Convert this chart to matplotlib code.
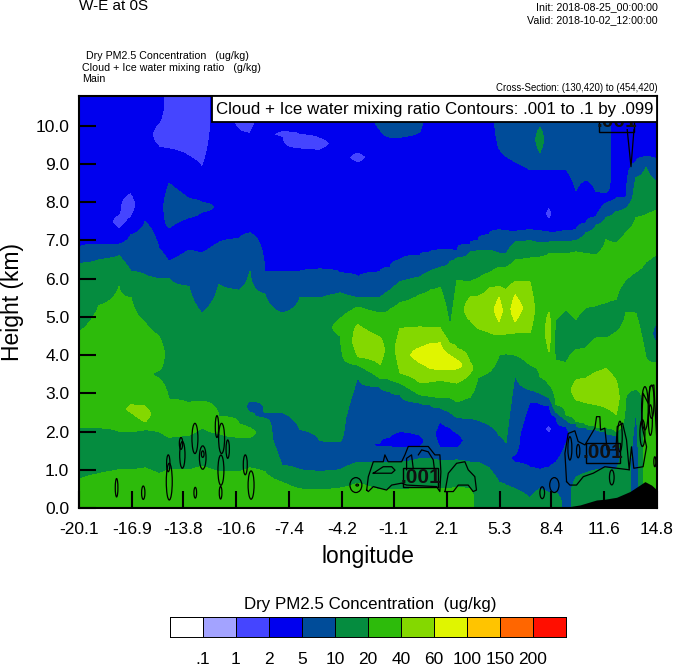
import numpy as np
import matplotlib
matplotlib.use("Agg")
import matplotlib.pyplot as plt
from matplotlib.colors import ListedColormap
from matplotlib.patches import Ellipse, Rectangle

plt.rcParams['font.family'] = ['Liberation Sans', 'DejaVu Sans']

W, H = 674, 667

# ---- colour bar classes ----
class_colors = ['#FFFFFF', '#A3A3FF', '#4545FF', '#0000EE', '#004C99', '#058C3F',
                '#2DBB0B', '#84D800', '#E0F500', '#FFC400', '#FF6600', '#FF0E00']
class_labels = ['.1', '1', '2', '5', '10', '20', '40', '60', '100', '150', '200']

# ---- x / y axis ----
lon_ticks = [-20.1, -16.9, -13.8, -10.6, -7.4, -4.2, -1.1, 2.1, 5.3, 8.4, 11.6, 14.8]
km_ticks = [0.0, 1.0, 2.0, 3.0, 4.0, 5.0, 6.0, 7.0, 8.0, 9.0, 10.0]

# ---- Dry PM2.5: class number and the top (km) of each layer, bottom to top, per longitude ----
col_lon = [-20.1, -18.89, -17.68, -16.96, -16.11, -15.27, -14.67, -13.46, -12.67, -11.65, -10.44,
           -9.78, -8.87, -7.84, -6.76, -5.55, -4.34, -3.25, -1.93, -1.32, -0.72, 0.49, 1.09, 1.70, 2.30, 2.72,
           3.51, 3.99, 4.66, 5.26, 5.68, 6.23, 7.13, 7.73, 8.28, 8.70, 9.31, 9.91, 10.51, 11.12,
           11.72, 12.32, 12.93, 13.53, 14.13, 14.8]
c00 = [6,.75,5,2.1,6,4.6,5,6.4,4,6.8,3]
c01 = [6,.9,5,2.1,6,5.3,5,6.5,4,6.9,3]
c02 = [6,1.0,5,2.0,6,5.8,5,6.6,4,6.9,3,7.3,2,7.7,3]
c03 = [6,1.0,5,2.0,6,2.5,7,2.7,6,5.5,5,6.2,4,7.15,3,7.6,2,8.25,3]
c04 = [6,1.05,5,2.05,6,2.25,7,2.65,6,4.85,5,6.1,4,7.5,3]
c05 = [6,.9,5,2.0,6,3.4,5,3.6,6,4.5,5,6.0,4,6.8,3,9.45,2,10.08,3]
c06 = [6,1.0,5,1.85,6,2.85,5,6.0,4,6.45,3,7.33,4,8.5,3,9.4,2]
c07 = [6,1.0,5,1.9,6,2.75,5,5.8,4,6.75,3,7.6,4,8.1,3,9.2,2]
c08 = [6,1.1,5,2.1,6,2.8,5,5.1,4,6.67,3,7.75,4,8.0,3,8.9,2]
c09 = [6,.95,5,1.95,6,2.4,5,5.85,4,6.95,3]
c10 = [6,.95,5,1.85,6,2.2,5,5.7,4,7.05,3,9.9,2]
c11 = [6,1.05,5,1.85,6,2.1,5,2.5,4,2.8,5,6.2,4,7.2,3,9.8,2]
c12 = [6,.95,5,2.35,4,2.5,5,5.6,4,6.2,3]
c13 = [6,.68,5,1.12,4,2.5,5,5.1,4,6.18,3,9.7,2,9.87,3]
c14 = [6,.5,5,1.0,4,2.05,5,5.5,4,6.2,3,9.4,2,9.8,3]
c15 = [6,.47,5,.95,4,1.75,5,5.5,4,6.25,3,9.37,2,9.7,3]
c16 = [6,.52,5,1.0,4,1.73,5,4.5,6,4.95,5,5.63,4,6.15,3]
c17 = [6,.65,5,1.2,4,3.43,5,3.74,6,3.95,7,4.8,6,5.26,5,5.5,4,6.05,3,9.03,2,9.32,3]
c18 = [6,.47,5,1.2,4,1.6,3,1.7,4,3.17,5,3.4,6,3.74,7,4.48,6,5.1,5,5.5,4,6.18,3,9.9,4]
c18b = [6,.47,5,1.2,4,1.6,3,1.85,4,3.05,5,3.35,6,5.2,5,5.7,4,6.3,3,9.7,4]
c19 = [6,.47,5,1.2,4,1.57,3,2.0,4,2.96,5,3.27,6,3.53,7,4.7,6,5.37,5,5.92,4,6.49,3,9.7,4]
c20 = [6,.52,5,1.3,4,1.6,3,1.9,4,2.75,5,2.96,6,3.27,7,3.8,8,4.2,7,4.74,6,5.58,5,6.05,4,6.62,3,9.85,4]
c20b = [6,.5,5,1.3,4,2.7,5,2.92,6,3.3,7,3.65,8,4.3,7,4.72,6,5.7,5,6.2,4,6.7,3]
c21 = [6,.5,5,1.25,4,1.57,3,2.25,4,2.62,5,2.88,6,3.35,7,3.61,8,4.32,7,4.71,6,5.78,5,6.3,4,6.75,3]
c22 = [6,.5,5,1.25,4,1.57,3,2.1,4,2.5,5,2.88,6,3.3,7,3.62,8,4.0,7,4.3,6,4.72,5,6.45,4,6.75,3]
c23 = [6,.55,5,1.26,4,1.57,3,1.96,4,2.36,5,2.78,6,3.27,7,3.64,8,3.87,7,4.18,6,5.97,5,6.54,4,6.7,3]
c24 = [6,.5,5,1.2,4,2.35,5,2.9,6,3.53,7,3.8,6,4.92,7,5.52,6,5.92,5,6.7,4,6.9,3]
c25 = [5,1.2,4,2.3,5,3.4,6,4.7,7,5.55,6,6.0,5,6.75,4,7.0,3]
c26 = [5,1.05,4,2.17,5,3.56,6,4.6,7,5.76,6,6.15,5,6.75,4,7.15,3]
c27 = [5,.68,4,1.9,5,4.0,6,4.53,7,4.87,8,5.52,7,5.79,6,6.3,5,6.67,4,7.28,3,9.4,4]
c28 = [5,.6,4,1.7,5,4.05,6,4.55,7,5.7,6,6.3,5,6.65,4,7.25,3,9.2,4]
c29 = [5,.5,4,1.2,3,1.4,4,3.48,5,4.0,6,4.58,7,4.87,8,5.58,7,5.92,6,6.49,5,6.96,4,7.22,3,9.06,4]
c30 = [5,.26,4,1.07,3,2.78,4,3.09,5,3.74,6,4.58,7,5.92,6,6.54,5,7.0,4,7.28,3,8.85,4]
c31 = [5,.5,4,1.0,3,2.75,4,3.0,5,3.43,6,6.57,5,6.94,4,7.25,3,8.85,4,9.3,5,9.95,4]
c32 = [5,.4,4,1.07,3,1.96,2,2.17,3,2.68,4,2.88,5,3.22,6,4.08,7,5.13,6,6.67,5,6.96,4,7.22,3,7.54,2,7.88,3,8.85,4]
c33 = [5,.4,4,1.2,3,2.38,4,2.5,5,2.7,6,3.87,5,4.92,6,6.67,5,6.96,4,7.22,3,8.85,4]
c34 = [4,1.7,3,2.12,4,2.3,5,2.43,6,3.8,5,5.18,6,6.67,5,6.96,4,7.25,3,8.85,4]
c35 = [5,.8,4,2.2,5,2.25,6,2.83,7,3.35,6,4.14,5,4.92,6,6.7,5,7.0,4,7.28,3,8.3,4]
c36 = [5,.92,4,2.1,5,2.17,6,2.75,7,3.4,6,4.19,5,5.24,6,6.67,5,7.2,4,7.46,3,8.59,4]
c37 = [5,1.0,4,2.05,5,2.12,6,2.7,7,3.56,6,4.45,5,5.29,6,6.62,5,7.4,4,7.62,3,8.27,4]
c38 = [5,1.05,4,2.0,5,2.1,6,2.62,7,3.65,6,4.45,5,5.37,6,7.02,5,7.6,4,7.98,3,8.25,4]
c39 = [5,1.0,4,1.9,5,2.0,6,2.43,7,3.35,6,4.6,5,5.45,6,6.94,5,7.75,4,8.1,3]
c40 = [5,2.9,6,5.13,5,5.97,6,7.22,5,7.85,4,8.14,3]
c41 = [4,2.6,5,3.1,6,5.1,5,6.18,6,7.6,5,8.64,4,9.06,3]
c42 = [6,3.95,5,6.44,6,7.67,5,8.93,4,9.19,3]
c43 = [6,3.8,5,4.27,4,4.87,5,6.67,6,7.8,5,8.53,4,9.11,3]
columns = [c00,c01,c02,c03,c04,c05,c06,c07,c08,c09,c10,c11,c12,c13,c14,c15,c16,c17,c18,c18b,c19,c20,c20b,c21,
           c22,c23,c24,c25,c26,c27,c28,c29,c30,c31,c32,c33,c34,c35,c36,c37,c38,c39,c40,c41,c42,c43]

# ---- terrain ----
terrain_lon = [9.44, 10.15, 11.15, 11.65, 12.36, 13.16, 13.76, 14.07, 14.47, 14.8]
terrain_km = [.03, .08, .21, .23, .28, .43, .60, .69, .60, .47]

# ---- cloud contour cells: lon, km, width, height ----
cell_lon = [-17.83,-16.22,-14.71,-14.65,-13.08,-13.94,-13.86,-13.1,-12.63,-12.63,-11.77,-11.49,-11.12,
            -11.53,-11.55,-10.06,-9.71,-3.38,-3.3,7.87,8.6,12.07,10.04,9.54,14.67,13.92,12.56,14.07,14.47,14.4]
cell_km = [.53,.40,1.17,.69,.40,1.69,1.39,1.82,1.32,1.41,2.13,1.82,1.54,.99,.40,1.13,.60,.60,.60,.40,.60,.80,
           1.49,1.56,1.21,1.96,1.87,2.61,2.78,2.3]
cell_w = [.16,.2,.2,.36,.16,.2,.32,.36,.4,.16,.2,.36,.2,.36,.16,.24,.36,.72,.16,.28,.56,.28,.2,.24,.12,.3,.28,.4,.3,.24]
cell_h = [.48,.35,.44,.96,.28,.31,.70,.79,.61,.17,.57,.79,.48,.79,.33,.52,.74,.39,.05,.31,.39,.39,.35,.61,.26,.7,.8,1.13,.87,.8]

# ---- irregular cloud contour outlines ----
line_a_lon = [-2.73,-2.63,-2.33,-1.73,-1.63,-1.43,-.62,-.42,-.22,.99,1.39,1.69,1.75,1.69,1.49,-.32,-.62,-1.22,-1.53,-2.33,-2.63,-2.73]
line_a_km = [.47,.82,1.21,1.21,1.39,1.21,1.21,1.39,1.61,1.61,1.39,1.39,.95,.43,.56,.60,.65,.60,.47,.56,.43,.47]
line_b_lon = [-2.33,-1.73,-1.22,-1.02,-1.22,-1.73,-2.33]
line_b_km = [.91,1.08,1.08,.99,.91,.91,.91]
line_c_lon = [-.32,-.32,-.02,.08]
line_c_km = [1.0,1.30,1.39,1.04]
line_d_lon = [.39,.59,.99,1.29,1.39]
line_d_km = [1.39,1.52,1.47,1.26,.91]
line_e_lon = [2.0,2.2,2.7,3.2,3.4,3.8,3.9,3.7,3.4,2.8,2.5,2.0]
line_e_km = [.43,.91,1.17,1.21,1.0,.82,.47,.43,.60,.60,.43,.43]
line_f_lon = [9.34,9.24,9.44,9.84,10.04,10.45,11.05,11.15,11.35,11.39,11.65,11.79,12.32,12.4,12.72,12.96,13.12,13.26,
              13.4,13.96,14.17,13.86,13.96,14.27,14.37,14.61,14.69,14.79]
line_f_km = [.69,1.43,1.95,2.02,1.74,1.65,2.09,2.39,2.39,2.04,2.09,1.52,1.52,2.13,2.22,1.78,1.0,1.6,1.04,1.08,1.6,
             2.22,3.0,2.74,3.18,3.22,2.57,1.78]
line_g_lon = [13.12,11.65,10.95,10.35,9.94,9.54,9.34]
line_g_km = [1.0,1.08,.91,.82,.6,.6,.69]
line_h_lon = [13.0,13.23,13.41]
line_h_km = [9.9,8.93,9.9]
lines = [(line_a_lon,line_a_km),(line_b_lon,line_b_km),(line_c_lon,line_c_km),(line_d_lon,line_d_km),
         (line_e_lon,line_e_km),(line_f_lon,line_f_km),(line_g_lon,line_g_km),(line_h_lon,line_h_km)]

# contour-label boxes: lon centre, km centre
label_lon = [0.52, 11.54, 12.36]
label_km = [.80, 1.44, 10.1]
label_w, label_h = 2.11, .5


def column_profile(col, z):
    bands = col[0::2]
    tops = col[1::2]
    hs, vs = [0.0], [float(bands[0])]
    edges = [0.0] + list(tops) + [11.0]
    for i, b in enumerate(bands):
        hs.append((edges[i] + edges[i + 1]) / 2)
        vs.append(float(b))
        if i < len(tops):
            hs.append(tops[i])
            vs.append((b + bands[i + 1]) / 2)
    hs.append(11.0)
    vs.append(float(bands[-1]))
    return np.interp(z, hs, vs)


fig = plt.figure(figsize=(W / 100, H / 100), dpi=100)
ax = fig.add_axes([79 / W, (H - 508) / H, (657 - 79) / W, (508 - 96) / H])

z_grid = np.arange(0, 11.001, 0.02)
field = np.array([column_profile(c, z_grid) for c in columns]).T
cmap = ListedColormap(class_colors)
ax.contourf(col_lon, z_grid, field, levels=np.arange(-0.5, 12), colors=class_colors, antialiased=False, zorder=1)

ax.fill_between(terrain_lon, 0, terrain_km, color='black', lw=0, zorder=4)

for lo, k, w, h in zip(cell_lon, cell_km, cell_w, cell_h):
    ax.add_patch(Ellipse((lo, k), w, h, fill=False, ec='black', lw=0.9, zorder=3))
for lo, k in lines:
    ax.plot(lo, k, color='black', lw=0.9, zorder=3)

for lo, k in zip(label_lon, label_km):
    ax.add_patch(Rectangle((lo - label_w / 2, k - label_h / 2), label_w, label_h, fill=False, ec='black', lw=1.0, zorder=5))
    ax.text(lo, k, '.001', ha='center', va='center', fontsize=15, fontweight='bold', color='#101010', zorder=5, clip_on=True)

ax.set_xlim(-20.1, 14.8)
ax.set_ylim(0, 10.78)
ax.set_xticks(lon_ticks)
ax.set_xticklabels([f'{v:.1f}' for v in lon_ticks])
ax.set_yticks(km_ticks)
ax.set_yticklabels([f'{v:.1f}' for v in km_ticks])
ax.tick_params(axis='both', direction='in', length=12.5, width=1.5, labelsize=12.5, pad=7,
               top=False, right=False, color='black')
ax.tick_params(axis='x', pad=10)
for s in ax.spines.values():
    s.set_linewidth(1.5)
    s.set_zorder(6)
ax.set_axisbelow(False)


def ptext(x, y, s, **kw):
    fig.text(x / W, 1 - y / H, s, **kw)


ptext(79, 6, 'W-E at 0S', fontsize=11, ha='left', va='center')
ptext(658, 7, 'Init: 2018-08-25_00:00:00', fontsize=7.7, ha='right', va='center')
ptext(658, 20, 'Valid: 2018-10-02_12:00:00', fontsize=7.7, ha='right', va='center')
ptext(83, 56, ' Dry PM2.5 Concentration   (ug/kg)', fontsize=7.7, ha='left', va='center')
ptext(82, 68, 'Cloud + Ice water mixing ratio   (g/kg)', fontsize=7.7, ha='left', va='center')
ptext(82, 79, 'Main', fontsize=7.7, ha='left', va='center')
ptext(658, 88, 'Cross-Section: (130,420) to (454,420)', fontsize=6.9, ha='right', va='center')
ptext(368, 556, 'longitude', fontsize=16.5, ha='center', va='center')
ptext(13, 302, 'Height (km)', fontsize=16.5, ha='center', va='center', rotation=90)

# title box
fig.patches.append(Rectangle((212 / W, 1 - 122 / H), (657 - 212) / W, 26 / H, transform=fig.transFigure,
                             fc='white', ec='black', lw=1.3, zorder=10))
ptext(434.5, 109.5, 'Cloud + Ice water mixing ratio Contours: .001 to .1 by .099', fontsize=12.2,
      ha='center', va='center', zorder=11)

# colour bar
cax = fig.add_axes([170 / W, (H - 637) / H, (566 - 170) / W, 20 / H])
cax.pcolormesh(np.arange(13), [0, 1], np.arange(12).reshape(1, 12), cmap=cmap, vmin=-0.5, vmax=11.5,
               edgecolors='black', linewidth=0.6)
cax.set_yticks([])
cax.set_xticks(np.arange(1, 12))
cax.set_xticklabels(class_labels, fontsize=12.5)
cax.tick_params(axis='x', length=0, pad=11)
for s in cax.spines.values():
    s.set_linewidth(0.7)
ptext(370, 605, 'Dry PM2.5 Concentration  (ug/kg)', fontsize=12.2, ha='center', va='center')

fig.savefig('out.png', dpi=100)
